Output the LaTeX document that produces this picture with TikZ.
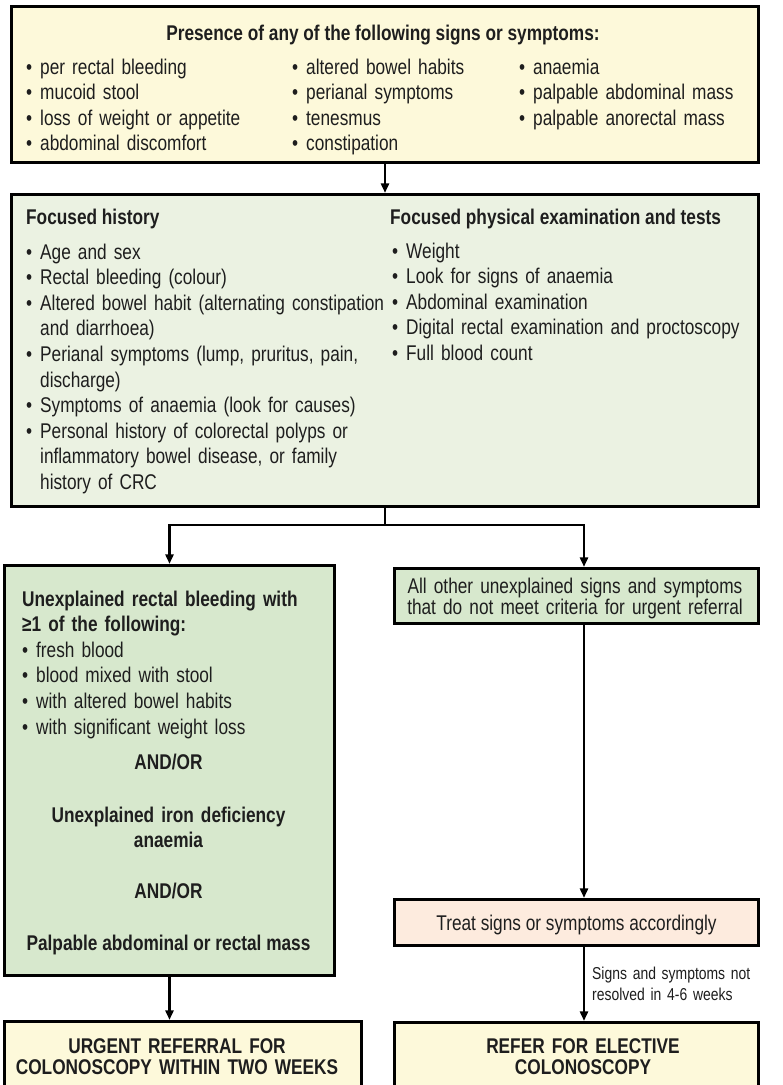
\documentclass[tikz,border=0pt]{standalone}
\usepackage{fontspec}
\setmainfont{Liberation Sans}[FakeStretch=0.81]
\usetikzlibrary{arrows.meta}
\definecolor{yel}{HTML}{FDF9DA}
\definecolor{lgreen}{HTML}{EBF2E2}
\definecolor{dgreen}{HTML}{D7E8CD}
\definecolor{peach}{HTML}{FDEBDE}
\definecolor{ink}{HTML}{1E1E1E}
\newcommand\bx{\hangindent=14bp\hangafter=1\noindent\makebox[14bp][l]{•}}
\newcommand\bi{\par\bx}
\tikzset{
  box/.style={draw=black, line width=3.2bp, rectangle, inner sep=0pt},
  body/.style={font=\fontsize{21.3bp}{25.6bp}\selectfont, text=ink, inner sep=0pt},
  bbody/.style={font=\fontsize{21.3bp}{25.6bp}\selectfont\bfseries, text=ink, inner sep=0pt},
  tight/.style={font=\fontsize{21.3bp}{21bp}\selectfont, text=ink, inner sep=0pt},
  btight/.style={font=\fontsize{21.3bp}{21bp}\selectfont\bfseries, text=ink, inner sep=0pt},
  small/.style={font=\fontsize{17.2bp}{21bp}\selectfont, text=ink, inner sep=0pt},
  txt/.style={anchor=base west, align=left},
  ctr/.style={anchor=base, align=center},
  conn/.style={draw=black, line width=2.5bp},
  arr/.style={conn, -{Triangle[length=9.5bp,width=8bp]}}
}
\begin{document}
\begin{tikzpicture}[x=1bp, y=-1bp]
\path[use as bounding box] (0,0) rectangle (783,1085);
\clip (0,0) rectangle (783,1085);
\fill[white] (0,0) rectangle (783,1085);

% boxes
\node[box, fill=yel, minimum width=747bp, minimum height=156bp] (A) at (385,84.5) {};
\node[box, fill=lgreen, minimum width=747bp, minimum height=312bp] (B) at (385,350.5) {};
\node[box, fill=dgreen, minimum width=330bp, minimum height=410bp] (C) at (169.5,770.5) {};
\node[box, fill=dgreen, minimum width=364bp, minimum height=55bp] (D) at (576.5,596) {};
\node[box, fill=peach, minimum width=364bp, minimum height=46bp] (E) at (576.5,922.5) {};
\node[box, fill=yel, minimum width=357bp, minimum height=80bp] (F) at (183,1061.5) {};
\node[box, fill=yel, minimum width=364bp, minimum height=80bp] (G) at (576.5,1062.5) {};

% top box text
\node[bbody, ctr] (At) at (383,40) {Presence of any of the following signs or symptoms:};
\node[body, txt, text width=250bp] (A1) at (26,74) {\bx per rectal bleeding\bi mucoid stool\bi loss of weight or appetite\bi abdominal discomfort\par};
\node[body, txt, text width=220bp] (A2) at (292,74) {\bx altered bowel habits\bi perianal symptoms\bi tenesmus\bi constipation\par};
\node[body, txt, text width=235bp] (A3) at (519,74) {\bx anaemia\bi palpable abdominal mass\bi palpable anorectal mass\par};

% second box text
\node[bbody, txt] (Bh1) at (26,224) {Focused history};
\node[body, txt, text width=365bp] (B1) at (26,259) {\bx Age and sex\bi Rectal bleeding (colour)\bi Altered bowel habit (alternating constipation\newline and diarrhoea)\bi Perianal symptoms (lump, pruritus, pain,\newline discharge)\bi Symptoms of anaemia (look for causes)\bi Personal history of colorectal polyps or\newline inflammatory bowel disease, or family\newline history of CRC\par};
\node[bbody, txt] (Bh2) at (390,224) {Focused physical examination and tests};
\node[body, txt, text width=365bp] (B2) at (392,258) {\bx Weight\bi Look for signs of anaemia\bi Abdominal examination\bi Digital rectal examination and proctoscopy\bi Full blood count\par};

% left green box text
\node[body, txt, text width=300bp] (C1) at (22,606) {{\bfseries\makebox[293bp][s]{Unexplained rectal bleeding with}\newline ≥1 of the following:}\par\hangindent=14bp\hangafter=1\noindent\makebox[14bp][l]{•}fresh blood\bi blood mixed with stool\bi with altered bowel habits\bi with significant weight loss\par};
\node[bbody, ctr] (C2) at (168.5,769) {AND/OR};
\node[bbody, ctr, text width=310bp] (C3) at (168.5,822) {Unexplained iron deficiency\\anaemia};
\node[bbody, ctr] (C4) at (168.5,898) {AND/OR};
\node[bbody, ctr] (C5) at (168.5,950) {Palpable abdominal or rectal mass};

% right boxes text
\node[tight, ctr, text width=362bp] (Dt) at (575,593) {All other unexplained signs and symptoms\\that do not meet criteria for urgent referral};
\node[tight, ctr] (Et) at (576.5,930) {Treat signs or symptoms accordingly};
\node[btight, ctr, text width=355bp] (Ft) at (177,1053) {URGENT REFERRAL FOR\\COLONOSCOPY WITHIN TWO WEEKS};
\node[btight, ctr, text width=355bp] (Gt) at (583,1053) {REFER FOR ELECTIVE\\COLONOSCOPY};

% connectors
\coordinate (br) at (385,525);
\coordinate (rcol) at (584,0);
\draw[arr] (A.south) -- (B.north);
\draw[conn] (B.south) -- (br);
\draw[arr] (br) -| (C.north);
\draw[arr] (br) -| (D.north -| rcol);
\draw[arr] (D.south -| rcol) -- (E.north -| rcol);
\draw[arr] (E.south -| rcol) -- (G.north -| rcol);
\draw[arr] (C.south) -- (C.south |- F.north);
\node[small, txt, text width=190bp] (lbl) at (592,979) {Signs and symptoms not\newline resolved in 4-6 weeks};
\end{tikzpicture}
\end{document}
